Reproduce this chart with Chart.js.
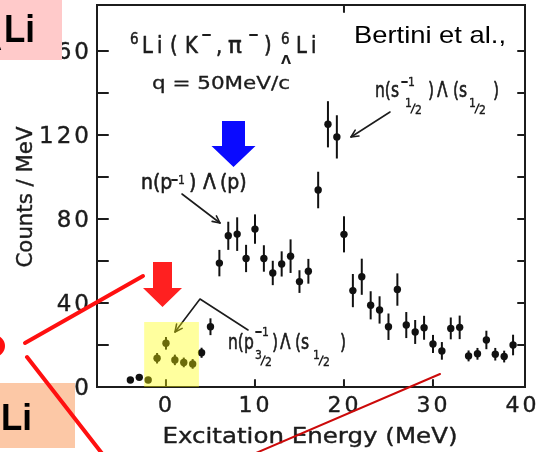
<!DOCTYPE html>
<html>
<head>
<meta charset="utf-8">
<script src="https://cdn.jsdelivr.net/npm/chart.js@4.4.1/dist/chart.umd.min.js"></script>
<style>
  html, body { margin: 0; padding: 0; background: #fff; }
  canvas { display: block; }
</style>
</head>
<body>
<canvas id="c" width="537" height="452"></canvas>
<script>
// Excitation spectrum of 6Li(K-,pi-) at q = 50 MeV/c
const energies = [-4, -3, -2, -1, 0, 1, 2, 3, 4, 5, 6, 7, 8, 9, 10, 11, 12, 13, 14, 15,
                  16, 17.1, 18.2, 19.2, 20, 21, 22, 23, 24, 25, 26, 27, 28, 29, 30, 31,
                  32, 33, 34, 35, 36, 37, 38, 39];
const counts = [3.3, 4.6, 3.3, 13.7, 20.8, 12.9, 11.7, 11.0, 16.3, 28.7, 59.0, 72.0, 72.8,
                61.2, 75.2, 61.2, 54.3, 58.6, 62.3, 50.2, 55.1, 93.8, 125.1, 119.1, 72.7,
                45.9, 52.5, 38.9, 36.7, 28.7, 46.4, 29.5, 26.2, 28.2, 20.5, 17.2, 27.9,
                28.4, 14.8, 15.8, 22.4, 15.6, 14.5, 20.0];
const errors = [1.0, 1.0, 1.0, 2.5, 3.0, 2.5, 2.3, 2.3, 2.4, 4.0, 6.3, 6.7, 8.0, 6.5, 7.0,
                6.3, 5.8, 6.0, 8.0, 5.4, 5.9, 8.7, 11.0, 10.3, 8.6, 7.9, 8.6, 6.7, 6.5,
                6.3, 7.7, 6.2, 5.7, 5.7, 4.3, 4.2, 5.2, 5.6, 2.6, 2.8, 4.4, 3.0, 2.8, 4.9];

const yTickLabels = [0, 40, 80, 120, 160];
const yMinorTicks = [20, 60, 100, 140];
const yRightTicks = [20, 40, 60, 80, 100, 120, 140, 160];
const xTickLabels = [0, 10, 20, 30, 40];
const xBottomTicks = [0, 10, 20, 30];
const xTopTicks = [20];
const yRange = [0, 181.9];
const xRange = [-7.75, 40.34];

const INK = '#1c1c1c';
const SCAN_FONT = '"DejaVu Sans"';

function drawText(ctx, s, x, y, o) {
  ctx.save();
  ctx.font = `${o.weight || 'normal'} ${o.size}px ${o.family || SCAN_FONT}`;
  ctx.fillStyle = o.color || INK;
  ctx.strokeStyle = o.color || INK;
  ctx.textBaseline = 'alphabetic';
  ctx.textAlign = 'left';
  if (o.spacing) ctx.letterSpacing = o.spacing + 'px';
  let w = ctx.measureText(s).width;
  if (o.spacing) w -= o.spacing;
  const sx = o.width ? o.width / w : (o.sx || 1);
  ctx.translate(x, y);
  if (o.rotate) ctx.rotate(o.rotate);
  ctx.scale(sx, 1);
  const align = o.align || 'left';
  const dx = align === 'center' ? -w / 2 : align === 'right' ? -w : 0;
  ctx.fillText(s, dx, 0);
  if (o.heavy) {
    ctx.lineWidth = o.heavy;
    ctx.lineJoin = 'round';
    ctx.strokeText(s, dx, 0);
  }
  ctx.restore();
}

function line(ctx, pts, width, color) {
  ctx.save();
  ctx.strokeStyle = color || INK;
  ctx.lineWidth = width;
  ctx.lineCap = 'round';
  ctx.lineJoin = 'round';
  ctx.beginPath();
  ctx.moveTo(pts[0][0], pts[0][1]);
  for (let i = 1; i < pts.length; i++) ctx.lineTo(pts[i][0], pts[i][1]);
  ctx.stroke();
  ctx.restore();
}

function arrowHead(ctx, from, to, len, width) {
  const ang = Math.atan2(to[1] - from[1], to[0] - from[0]);
  const a1 = ang + Math.PI - 0.45, a2 = ang + Math.PI + 0.45;
  line(ctx, [[to[0] + len * Math.cos(a1), to[1] + len * Math.sin(a1)], to,
             [to[0] + len * Math.cos(a2), to[1] + len * Math.sin(a2)]], width);
}

function blockArrow(ctx, cx, top, shaftW, headTop, headW, tip, color) {
  ctx.save();
  ctx.fillStyle = color;
  ctx.beginPath();
  ctx.moveTo(cx - shaftW / 2, top);
  ctx.lineTo(cx + shaftW / 2, top);
  ctx.lineTo(cx + shaftW / 2, headTop);
  ctx.lineTo(cx + headW / 2, headTop);
  ctx.lineTo(cx, tip);
  ctx.lineTo(cx - headW / 2, headTop);
  ctx.lineTo(cx - shaftW / 2, headTop);
  ctx.closePath();
  ctx.fill();
  ctx.restore();
}

const ANN = { size: 21, sx: 0.74, heavy: 0.6 };
const SMALL = { size: 12, sx: 0.9, heavy: 0.4 };

// fraction-style subscript: numerator raised, denominator lowered
function fraction(ctx, num, den, x, base) {
  drawText(ctx, num, x, base - 5, SMALL);
  line(ctx, [[x + 6, base + 1], [x + 10, base - 8]], 1.4);
  drawText(ctx, den, x + 10, base + 2, SMALL);
}

function supMinusOne(ctx, x, base) {
  line(ctx, [[x, base - 4], [x + 5, base - 4]], 1.8);
  drawText(ctx, '1', x + 6, base, SMALL);
}

const figurePlugin = {
  id: 'figure',
  beforeDatasetsDraw(chart) {
    const { ctx, chartArea: a, scales: { x, y } } = chart;
    ctx.save();
    // frame
    ctx.strokeStyle = INK;
    ctx.lineWidth = 2;
    ctx.strokeRect(a.left, a.top, a.right - a.left, a.bottom - a.top);
    // inward ticks
    [...yTickLabels, ...yMinorTicks].forEach(v => {
      const py = y.getPixelForValue(v);
      line(ctx, [[a.left, py], [a.left + 11, py]], 2);
    });
    yRightTicks.forEach(v => {
      const py = y.getPixelForValue(v);
      line(ctx, [[a.right, py], [a.right - 7, py]], 2);
    });
    xBottomTicks.forEach(v => {
      const px = x.getPixelForValue(v);
      line(ctx, [[px, a.bottom], [px, a.bottom - 7]], 2);
    });
    xTopTicks.forEach(v => {
      const px = x.getPixelForValue(v);
      line(ctx, [[px, a.top], [px, a.top + 7]], 2);
    });
    // error bars
    ctx.strokeStyle = '#111';
    ctx.lineWidth = 2;
    energies.forEach((e, i) => {
      const px = x.getPixelForValue(e);
      ctx.beginPath();
      ctx.moveTo(px, y.getPixelForValue(counts[i] - errors[i]));
      ctx.lineTo(px, y.getPixelForValue(counts[i] + errors[i]));
      ctx.stroke();
    });
    ctx.restore();
  },
  afterDraw(chart) {
    const { ctx, chartArea: a, scales: { x, y } } = chart;

    // tick labels
    yTickLabels.forEach(v => {
      drawText(ctx, String(v), 89, y.getPixelForValue(v) + 8, { size: 23, spacing: 3, align: 'right', heavy: 0.4 });
    });
    xTickLabels.forEach(v => {
      drawText(ctx, String(v), x.getPixelForValue(v) - 1, 412, { size: 22, spacing: 3, align: 'center', heavy: 0.4 });
    });

    // axis titles
    drawText(ctx, 'Excitation Energy (MeV)', 310, 443, { size: 22, width: 295, align: 'center', heavy: 0.4 });
    drawText(ctx, 'Counts / MeV', 32, 197, { size: 22, width: 141, align: 'center', rotate: -Math.PI / 2, heavy: 0.4 });

    // reaction label
    const T = { size: 23, sx: 0.85, heavy: 0.6 };
    const SUP = { size: 15, sx: 0.9, heavy: 0.5 };
    drawText(ctx, '6', 130, 44, SUP);
    drawText(ctx, 'L', 142, 53, T);
    drawText(ctx, 'i', 157, 53, T);
    drawText(ctx, '(', 170, 53, T);
    drawText(ctx, 'K', 185, 53, T);
    line(ctx, [[203, 35], [210, 35]], 2);
    drawText(ctx, ',', 216, 53, T);
    drawText(ctx, 'π', 228, 53, { size: 23, sx: 1, heavy: 0.6 });
    line(ctx, [[250, 35], [257, 35]], 2);
    drawText(ctx, ')', 264, 53, T);
    drawText(ctx, '6', 281, 44, SUP);
    drawText(ctx, 'Λ', 281, 64, { size: 13, weight: 'bold' });
    drawText(ctx, 'L', 296, 53, T);
    drawText(ctx, 'i', 311, 53, T);
    drawText(ctx, 'q = 50MeV/c', 152, 89, { size: 17, width: 138, heavy: 0.3 });

    drawText(ctx, 'Bertini et al.,', 354, 43, { size: 24, family: '"Liberation Sans", Arial', width: 152, color: '#000' });

    // n(p^-1) Lambda(p)
    drawText(ctx, 'n(p', 141, 189, { ...ANN, sx: 0.9 });
    supMinusOne(ctx, 172, 184);
    drawText(ctx, ')', 189, 189, { ...ANN, sx: 0.9 });
    drawText(ctx, 'Λ', 203, 189, { ...ANN, sx: 0.9 });
    drawText(ctx, '(p)', 220, 189, { ...ANN, sx: 0.9 });
    line(ctx, [[182, 194], [220, 223]], 1.6);
    arrowHead(ctx, [182, 194], [220, 223], 8, 1.6);

    // n(s1/2^-1) Lambda(s1/2)
    drawText(ctx, 'n(s', 375, 97, ANN);
    supMinusOne(ctx, 402, 86);
    fraction(ctx, '1', '2', 405, 112);
    drawText(ctx, ')', 428, 97, ANN);
    drawText(ctx, 'Λ', 437, 97, ANN);
    drawText(ctx, '(s', 453, 97, ANN);
    fraction(ctx, '1', '2', 469, 112);
    drawText(ctx, ')', 493, 97, ANN);
    line(ctx, [[390, 112], [351, 137]], 1.6);
    arrowHead(ctx, [390, 112], [351, 137], 8, 1.6);

    // n(p3/2^-1) Lambda(s1/2)
    drawText(ctx, 'n(p', 228, 349, ANN);
    supMinusOne(ctx, 256, 336);
    fraction(ctx, '3', '2', 255, 364);
    drawText(ctx, ')', 272, 349, ANN);
    drawText(ctx, 'Λ', 280, 349, ANN);
    drawText(ctx, '(s', 295, 349, ANN);
    fraction(ctx, '1', '2', 313, 364);
    drawText(ctx, ')', 340, 349, ANN);
    line(ctx, [[175, 332], [200, 299], [248, 330]], 1.6);
    arrowHead(ctx, [200, 299], [175, 332], 8, 1.6);

    // highlighted region over the ground-state peak
    ctx.save();
    ctx.fillStyle = 'rgba(255,255,0,0.38)';
    const hx0 = x.getPixelForValue(-2.45), hx1 = x.getPixelForValue(3.7);
    ctx.fillRect(hx0, 322, hx1 - hx0, a.bottom - 322);
    ctx.restore();

    // pointer arrows
    blockArrow(ctx, 233.5, 121, 23, 146, 44, 167, '#0a0aff');
    blockArrow(ctx, 162.5, 262, 19, 288, 39, 307, '#ff2020');

    // slide callouts
    ctx.save();
    ctx.fillStyle = '#ffcaca';
    ctx.fillRect(0, 0, 62, 60);
    ctx.fillStyle = '#fcc8a6';
    ctx.fillRect(0, 383, 75, 65);
    ctx.restore();
    drawText(ctx, 'Λ', -12, 50, { size: 20, weight: 'bold', family: '"Liberation Sans", Arial', color: '#000' });
    drawText(ctx, 'Li', 4, 42, { size: 38, weight: 'bold', family: '"Liberation Sans", Arial', color: '#000', width: 31 });
    drawText(ctx, 'Li', 1, 430, { size: 36, weight: 'bold', family: '"Liberation Sans", Arial', color: '#000', width: 31 });

    ctx.save();
    ctx.strokeStyle = '#ff1010';
    ctx.lineWidth = 6;
    ctx.beginPath();
    ctx.arc(-6, 346, 8, -Math.PI / 2, Math.PI / 2);
    ctx.stroke();
    ctx.restore();
    line(ctx, [[25, 343], [143, 276]], 4, '#ff1010');
    line(ctx, [[27, 357], [104, 456]], 4, '#ff1010');
    line(ctx, [[256, 453], [440, 374]], 2, '#cc0a0a');
  }
};

new Chart(document.getElementById('c'), {
  type: 'scatter',
  data: {
    datasets: [{
      data: energies.map((e, i) => ({ x: e, y: counts[i] })),
      pointRadius: 3.7,
      pointBackgroundColor: '#111',
      pointBorderWidth: 0
    }]
  },
  options: {
    responsive: false,
    animation: false,
    devicePixelRatio: 1,
    layout: { padding: { left: 0, right: 12, top: 5, bottom: 0 } },
    plugins: { legend: { display: false }, tooltip: { enabled: false } },
    scales: {
      x: {
        type: 'linear', min: xRange[0], max: xRange[1],
        grid: { display: false }, border: { display: false },
        ticks: { display: false },
        afterFit(s) { s.height = 65; }
      },
      y: {
        type: 'linear', min: yRange[0], max: yRange[1],
        grid: { display: false }, border: { display: false },
        ticks: { display: false },
        afterFit(s) { s.width = 97; }
      }
    }
  },
  plugins: [figurePlugin]
});
</script>
</body>
</html>
